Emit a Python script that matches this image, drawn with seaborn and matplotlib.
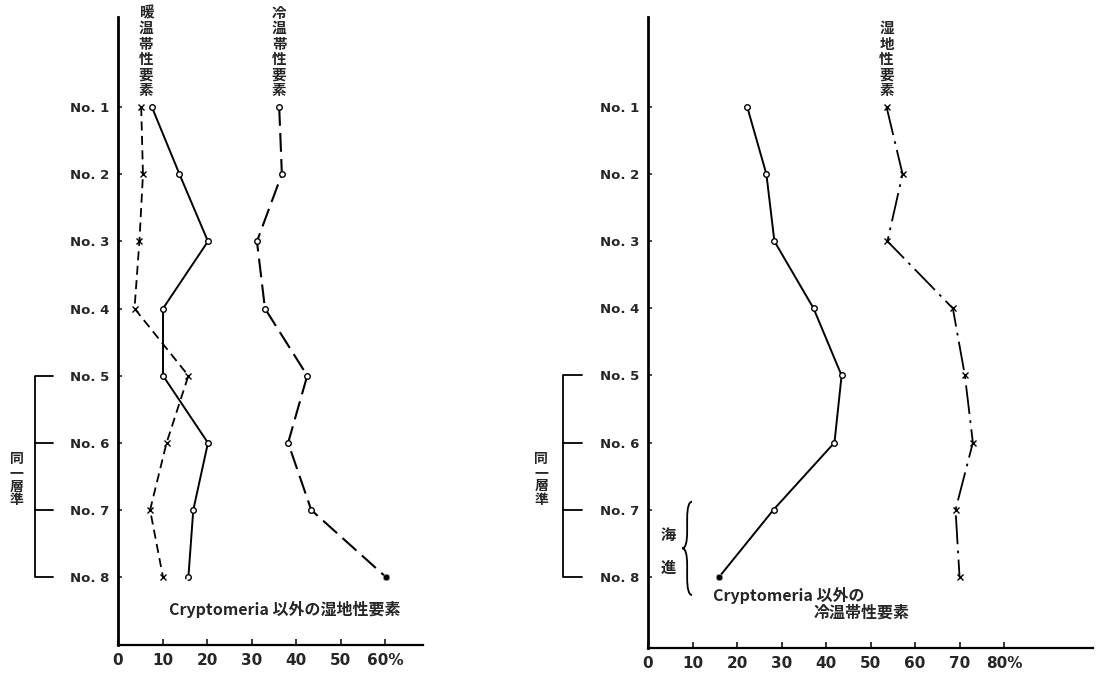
import matplotlib
matplotlib.use("Agg")
import matplotlib.pyplot as plt
from matplotlib.path import Path
from matplotlib.patches import PathPatch
import seaborn as sns

# sample levels No.1 .. No.8 (top to bottom)
positions = [1, 2, 3, 4, 5, 6, 7, 8]
level_labels = ["No. 1", "No. 2", "No. 3", "No. 4", "No. 5", "No. 6", "No. 7", "No. 8"]

# left panel (%)
left_wet = [7.6, 13.8, 20.2, 10.1, 10.1, 20.2, 16.9, 15.8]     # Cryptomeria 以外の湿地性要素
left_warm = [5.2, 5.6, 4.8, 3.7, 15.8, 10.9, 7.2, 10.1]        # 暖温帯性要素
left_cool = [36.2, 36.8, 31.2, 33.0, 42.5, 38.2, 43.4, 60.2]   # 冷温帯性要素
left_ticks = [0, 10, 20, 30, 40, 50, 60]
left_ticklabels = ["0", "10", "20", "30", "40", "50", "60%"]

# right panel (%)
right_cool = [22.3, 26.6, 28.4, 37.2, 43.5, 41.9, 28.2, 16.0]  # Cryptomeria 以外の冷温帯性要素
right_wet = [53.6, 57.2, 53.8, 68.5, 71.2, 73.0, 69.1, 70.0]   # 湿地性要素
right_ticks = [0, 10, 20, 30, 40, 50, 60, 70, 80]
right_ticklabels = ["0", "10", "20", "30", "40", "50", "60", "70", "80%"]

sns.set_style("white")
plt.rcParams['font.family'] = ['Noto Sans CJK JP', 'DejaVu Sans']

fig = plt.figure(figsize=(10.97, 6.73), dpi=100)
axL = fig.add_axes([0.1076, 0.0416, 0.278, 0.9331])
axR = fig.add_axes([0.5907, 0.0371, 0.4057, 0.9376])


def series(ax, vals, marker, dashes=None, lw=1.4, ms=4):
    sns.lineplot(x=vals, y=positions, sort=False, estimator=None, ax=ax,
                 color='black', lw=lw, marker=marker, markersize=ms,
                 markerfacecolor='white', markeredgecolor='black',
                 markeredgewidth=1.0)
    if dashes is not None:
        ax.lines[-1].set_dashes(dashes)


def vtext(ax, x, y, s, size=10.5, va='bottom'):
    ax.text(x, y, "\n".join(s), ha='center', va=va, fontsize=size,
            fontweight='bold', linespacing=0.96, clip_on=False)


def brace(ax, x, y0, y1, w):
    # curly brace opening to the right, tip pointing left
    m = (y0 + y1) / 2
    r = 0.25
    verts = [(x + w, y0), (x, y0), (x, y0 + r),
             (x, m - r), (x, m), (x - w, m),
             (x, m), (x, m + r),
             (x, y1 - r), (x, y1), (x + w, y1)]
    codes = [Path.MOVETO, Path.CURVE3, Path.CURVE3,
             Path.LINETO, Path.CURVE3, Path.CURVE3,
             Path.CURVE3, Path.CURVE3,
             Path.LINETO, Path.CURVE3, Path.CURVE3]
    ax.add_patch(PathPatch(Path(verts, codes), fill=False, edgecolor='black',
                           lw=1.3, clip_on=False))


def bracket(ax, x0, x1, text_x):
    ax.plot([x1, x0, x0, x1], [5, 5, 8, 8], color='black', lw=1.3, clip_on=False)
    for p in (6, 7):
        ax.plot([x0, x1], [p, p], color='black', lw=1.3, clip_on=False)
    vtext(ax, text_x, 6.55, "同一層準", size=10, va='center')


# ---- left panel
series(axL, left_wet, 'o')
series(axL, left_warm, 'x', dashes=(5, 3), lw=1.3, ms=5)
series(axL, left_cool, 'o', dashes=(9, 3.5), lw=1.5)
sns.scatterplot(x=left_cool[-1:], y=positions[-1:], color='black', s=22, ax=axL, zorder=5)

axL.annotate('', xy=(left_wet[-1], positions[-1]), xytext=(12.4, 8.4),
             arrowprops=dict(arrowstyle='-', lw=1.3, shrinkA=0, shrinkB=2))
axL.text(11.5, 8.48, "Cryptomeria 以外の湿地性要素", fontsize=11.5,
         fontweight='bold', va='center', ha='left')
vtext(axL, 6.3, 0.87, "暖温帯性要素")
vtext(axL, 36.2, 0.87, "冷温帯性要素")
bracket(axL, -18.6, -14.6, -22.8)

axL.set_xlim(0, 68.5)
axL.set_ylim(9.01, -0.34)
axL.set_xticks(left_ticks)
axL.set_xticklabels(left_ticklabels)

# ---- right panel
series(axR, right_cool, 'o')
series(axR, right_wet, 'x', dashes=(16, 3.5, 1.5, 3.5), lw=1.3, ms=5)
sns.scatterplot(x=right_cool[-1:], y=positions[-1:], color='black', s=22, ax=axR, zorder=5)

axR.text(14.6, 8.27, "Cryptomeria 以外の", fontsize=11.5, fontweight='bold',
         va='center', ha='left')
axR.text(37.2, 8.53, "冷温帯性要素", fontsize=11.5, fontweight='bold',
         va='center', ha='left')
vtext(axR, 53.6, 0.87, "湿地性要素")
brace(axR, 8.8, 6.88, 8.27, 1.1)
axR.text(4.5, 7.37, "海", fontsize=11, fontweight='bold', ha='center', va='center')
axR.text(4.5, 7.87, "進", fontsize=11, fontweight='bold', ha='center', va='center')
bracket(axR, -19.1, -14.9, -24.0)

axR.set_xlim(0, 100)
axR.set_ylim(9.06, -0.34)
axR.set_xticks(right_ticks)
axR.set_xticklabels(right_ticklabels)

for ax in (axL, axR):
    ax.set_yticks(positions)
    ax.set_yticklabels(level_labels)
    ax.set_xlabel('')
    ax.set_ylabel('')
    for side in ('top', 'right'):
        ax.spines[side].set_visible(False)
    ax.spines['left'].set_linewidth(2.0)
    ax.spines['bottom'].set_linewidth(1.6)
    ax.spines['left'].set_color('black')
    ax.spines['bottom'].set_color('black')
    ax.tick_params(axis='x', direction='in', length=4, width=1.3, pad=6,
                   labelsize=11, bottom=True)
    ax.tick_params(axis='y', direction='in', length=3, width=1.2, pad=6,
                   labelsize=9.5, left=True)
    for lab in ax.get_xticklabels() + ax.get_yticklabels():
        lab.set_fontweight('bold')
        lab.set_family(['DejaVu Sans'])
    ax.grid(False)

fig.savefig('out.png', dpi=100)
